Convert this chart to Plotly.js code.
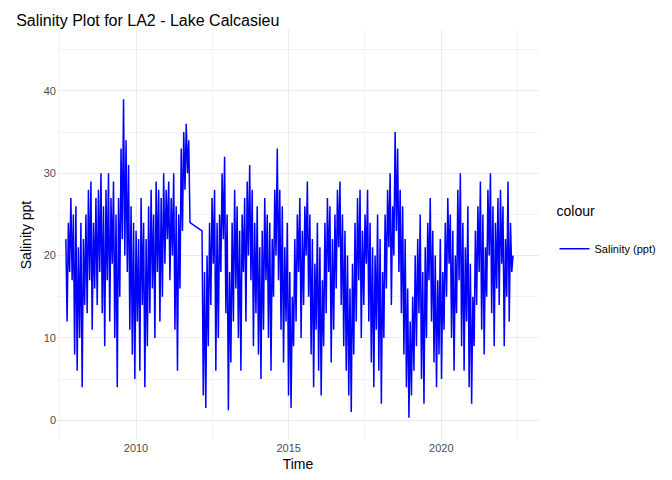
<!DOCTYPE html>
<html>
<head>
<meta charset="utf-8">
<script src="https://cdn.plot.ly/plotly-3.0.1.min.js"></script>
<style>body{margin:0;background:#fff}#chart{width:672px;height:480px}</style>
</head>
<body>
<div id="chart"></div>
<script>
// salinity readings (ppt), one every 15 days
var seg1Start = '2007-09-15';
var seg1Values = [22,12,24,18,27,17,25,
  8,26,6,21,10,24,4,22,14,25,13,28,17,29,11,24,16,27,14,28,18,30,13,26,
  9,28,17,30,12,27,19,29,10,25,4,27,15,33,22,39,20,34,18,31,11,26,8,24,
  5,23,12,22,6,27,14,24,4,22,9,26,13,28,16,25,10,29,18,28,12,27,15,30,
  19,28,22,29,17,27,20,30,11,26,6,25,16,33,23,35,28,36,30,34,24];
var seg2Start = '2012-03-01';
var seg2Values = [23,3,18,1.5,20,9,24,14,27,19,28,6,24,10,25,18,30,22,32,13,25,
  1.2,18,7,24,12,28,16,26,10,23,6,25,18,27,12,29,20,31,17,28,9,24,13,26,
  8,21,5,23,11,27,17,25,10,24,6,22,15,28,20,33,17,28,11,26,7,21,12,24,
  3,18,1.5,15,9,22,12,25,18,27,10,23,14,26,20,29,15,25,8,22,4,19,11,24,
  6,21,3,17,9,24,13,27,18,26,7,22,11,25,16,28,21,29,14,25,9,23,6,20,
  3,16,1,19,8,24,12,27,17,28,10,23,14,25,19,28,12,24,7,21,4,20,11,25,
  6,22,2,18,10,25,16,28,21,30,14,26,20,35,23,33,18,28,13,26,8,22,4,16,
  0.3,12,3,15,6,20,9,22,13,25,5,18,2,21,10,24,17,27,12,23,7,20,4,17,
  8,22,5,18,11,24,15,27,19,25,10,23,6,20,13,28,17,30,9,24,6,21,12,26,
  4,19,2,15,9,23,14,26,18,29,11,25,8,21,15,28,20,30,13,26,9,24,16,27,
  14,28,19,26,9,22,15,29,12,24,18,20];
var stepDays = 15;
var yearTicks = ['2010-01-01','2015-01-01','2020-01-01'];
var yearLabels = ['2010','2015','2020'];

function datesFor(start, n) {
    var out = [];
    var t0 = new Date(start + 'T00:00:00Z').getTime();
    for (var i = 0; i < n; i++)
        out.push(new Date(t0 + i * stepDays * 86400000).toISOString().slice(0, 10));
    return out;
}

var x = datesFor(seg1Start, seg1Values.length).concat(datesFor(seg2Start, seg2Values.length));
var y = seg1Values.concat(seg2Values);

var grid = '#ebebeb';
Plotly.newPlot('chart', [{
    x: x, y: y, mode: 'lines', name: 'Salinity (ppt)',
    line: {color: '#0000ff', width: 1.5}
}], {
    width: 672, height: 480,
    margin: {l: 57, r: 132, t: 30, b: 40},
    paper_bgcolor: '#fff', plot_bgcolor: '#fff',
    font: {family: 'Liberation Sans, Arial, sans-serif', color: '#000'},
    title: {text: 'Salinity Plot for LA2 - Lake Calcasieu', x: 0.024, xanchor: 'left', y: 0.97, font: {size: 16}},
    xaxis: {
        type: 'date', range: ['2007-06-01', '2023-03-15'],
        tickvals: yearTicks, ticktext: yearLabels,
        showgrid: true, gridcolor: grid, gridwidth: 1.2, zeroline: false, showline: false,
        tickfont: {size: 11, color: '#4d4d4d'},
        minor: {tickvals: ['2007-07-01','2012-07-01','2017-07-01','2022-07-01'], showgrid: true, gridcolor: '#f3f3f3', gridwidth: 0.6},
        title: {text: 'Time', font: {size: 14}, standoff: 6}
    },
    yaxis: {
        range: [-2.4, 47.4], tickvals: [0,10,20,30,40],
        showgrid: true, gridcolor: grid, gridwidth: 1.2, zeroline: false, showline: false,
        tickfont: {size: 11, color: '#4d4d4d'},
        minor: {tickvals: [5,15,25,35,45], showgrid: true, gridcolor: '#f3f3f3', gridwidth: 0.6},
        title: {text: 'Salinity ppt', font: {size: 14}, standoff: 8}
    },
    showlegend: true,
    legend: {x: 1.03, y: 0.51, yanchor: 'middle', tracegroupgap: 0,
             title: {text: 'colour<br> ', font: {size: 14}}, font: {size: 11}}
}, {displayModeBar: false});
</script>
</body>
</html>
